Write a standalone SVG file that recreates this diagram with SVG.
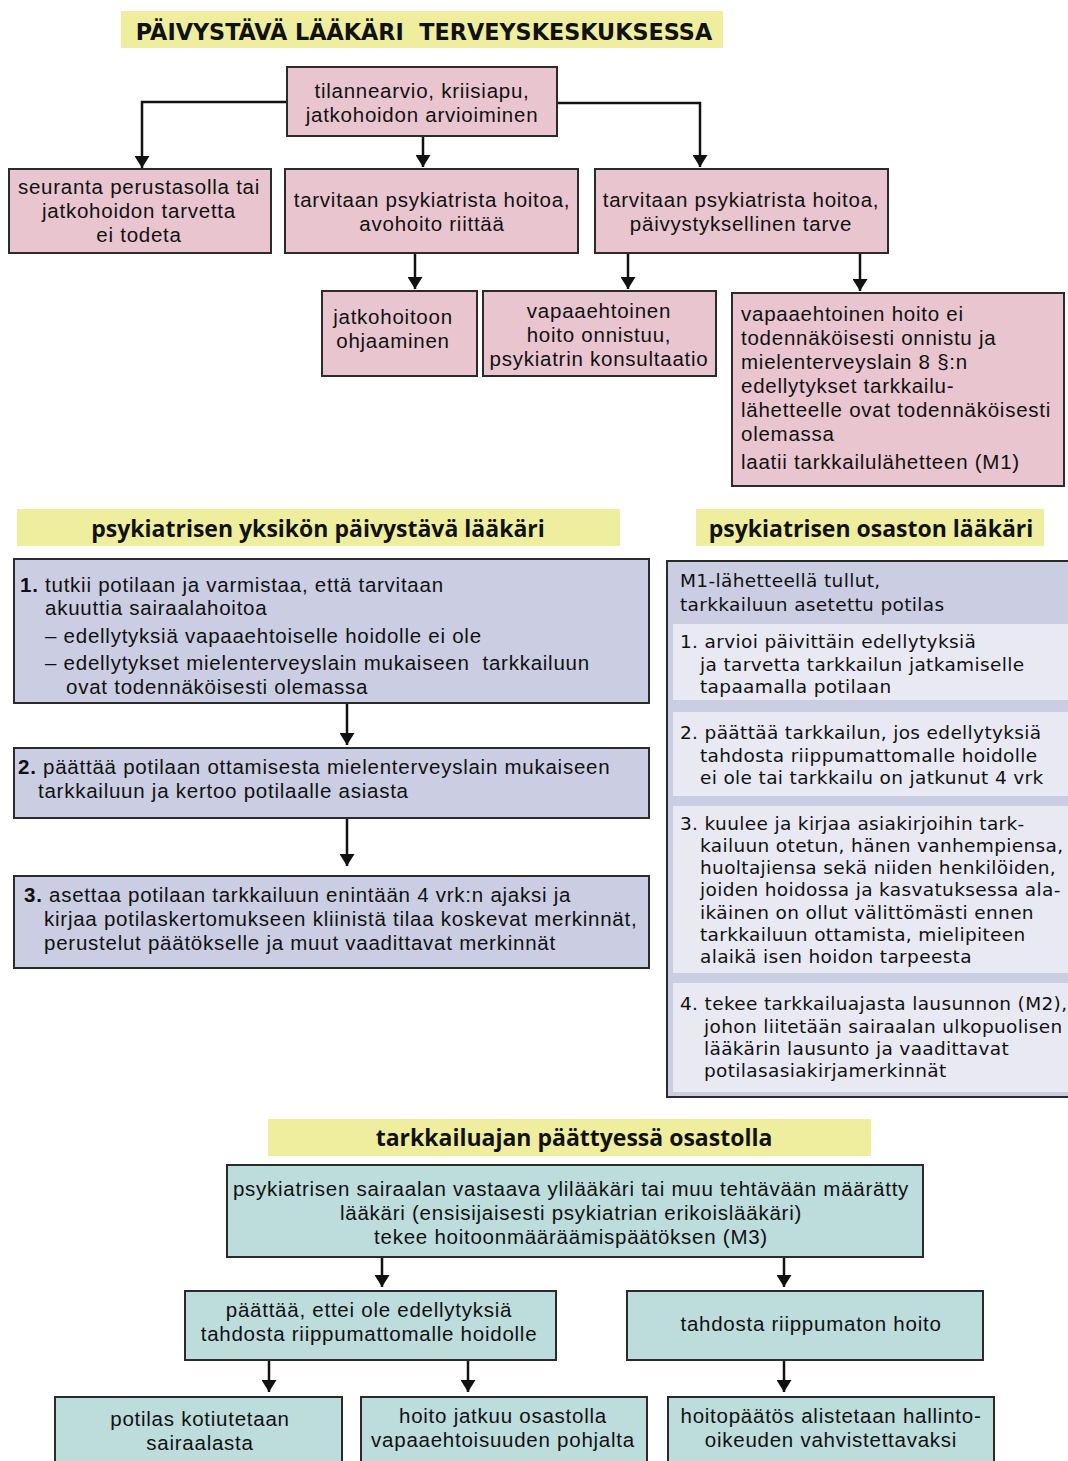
<svg xmlns="http://www.w3.org/2000/svg" width="1068" height="1461" viewBox="0 0 1068 1461">
<defs>
<marker id="ah" viewBox="0 0 12 15" refX="12" refY="7.5" markerWidth="12" markerHeight="15" markerUnits="userSpaceOnUse" orient="auto">
<path d="M0,0 L12,7.5 L0,15 Z" fill="#111"/>
</marker>
<style>
.t{font-family:"Liberation Sans",Arial,sans-serif;font-size:20.5px;letter-spacing:0.75px;fill:#111}
.o{font-family:"DejaVu Sans",Verdana,sans-serif;font-size:18.5px;letter-spacing:0.35px;fill:#111}
.h{font-family:"Open Sans","Noto Sans",sans-serif;font-size:23px;font-weight:bold;fill:#111}
.H{font-family:"DejaVu Sans",Verdana,sans-serif;font-size:22.3px;font-weight:bold;fill:#111}
.c{text-anchor:middle}
.b{font-weight:bold}
.pk{fill:#e9c5d0;stroke:#2b2b2b;stroke-width:2}
.lv{fill:#cbcde3;stroke:#2b2b2b;stroke-width:2}
.li{fill:#e8e9f3}
.tl{fill:#bddcdc;stroke:#2b2b2b;stroke-width:2}
.yl{fill:#eeee9e}
.cn{fill:none;stroke:#111;stroke-width:2.5;marker-end:url(#ah)}
</style>
</defs>
<rect width="1068" height="1461" fill="#fff"/>

<g id="title1"><rect class="yl" x="121" y="11" width="602" height="37"/><text class="H c" x="424" y="40" xml:space="preserve">PÄIVYSTÄVÄ LÄÄKÄRI  TERVEYSKESKUKSESSA</text></g>
<g id="title2"><rect class="yl" x="17" y="509" width="603" height="37"/><text class="h c" x="318" y="537">psykiatrisen yksikön päivystävä lääkäri</text></g>
<g id="title3"><rect class="yl" x="696" y="509" width="348" height="37"/><text class="h c" x="871" y="537">psykiatrisen osaston lääkäri</text></g>
<g id="title4"><rect class="yl" x="268" y="1119" width="603" height="37"/><text class="h c" x="574" y="1146">tarkkailuajan päättyessä osastolla</text></g>

<g id="connectors">
<path class="cn" d="M287,102 H142 V168"/>
<path class="cn" d="M557,103 H700 V167"/>
<path class="cn" d="M423,136 V167"/>
<path class="cn" d="M415,253 V289"/>
<path class="cn" d="M628,253 V289"/>
<path class="cn" d="M860,253 V291"/>
<path class="cn" d="M347,703 V745"/>
<path class="cn" d="M347,818 V866"/>
<path class="cn" d="M382,1257 V1287"/>
<path class="cn" d="M784,1257 V1287"/>
<path class="cn" d="M269,1360 V1392"/>
<path class="cn" d="M468,1360 V1392"/>
<path class="cn" d="M784,1360 V1392"/>
</g>

<g id="nodeA"><rect class="pk" x="287" y="67" width="270" height="69"/>
<text class="t c" x="422" y="98">tilannearvio, kriisiapu,</text>
<text class="t c" x="422" y="122">jatkohoidon arvioiminen</text></g>

<g id="nodeB1"><rect class="pk" x="9" y="169" width="262" height="84"/>
<text class="t c" x="139" y="194">seuranta perustasolla tai</text>
<text class="t c" x="139" y="218">jatkohoidon tarvetta</text>
<text class="t c" x="139" y="242">ei todeta</text></g>

<g id="nodeB2"><rect class="pk" x="285" y="169" width="293" height="84"/>
<text class="t c" x="432" y="207">tarvitaan psykiatrista hoitoa,</text>
<text class="t c" x="432" y="231">avohoito riittää</text></g>

<g id="nodeB3"><rect class="pk" x="595" y="169" width="293" height="84"/>
<text class="t c" x="741" y="207">tarvitaan psykiatrista hoitoa,</text>
<text class="t c" x="741" y="231">päivystyksellinen tarve</text></g>

<g id="nodeC1"><rect class="pk" x="322" y="291" width="155" height="85"/>
<text class="t c" x="393" y="324">jatkohoitoon</text>
<text class="t c" x="393" y="348">ohjaaminen</text></g>

<g id="nodeC2"><rect class="pk" x="483" y="291" width="233" height="85"/>
<text class="t c" x="599" y="318">vapaaehtoinen</text>
<text class="t c" x="599" y="342">hoito onnistuu,</text>
<text class="t c" x="599" y="366">psykiatrin konsultaatio</text></g>

<g id="nodeC3"><rect class="pk" x="732" y="293" width="332" height="193"/>
<text class="t" x="741" y="321">vapaaehtoinen hoito ei</text>
<text class="t" x="741" y="345">todennäköisesti onnistu ja</text>
<text class="t" x="741" y="369">mielenterveyslain 8 §:n</text>
<text class="t" x="741" y="393">edellytykset tarkkailu-</text>
<text class="t" x="741" y="417">lähetteelle ovat todennäköisesti</text>
<text class="t" x="741" y="441">olemassa</text>
<text class="t" x="741" y="469">laatii tarkkailulähetteen (M1)</text></g>

<g id="nodeD1"><rect class="lv" x="14" y="559" width="635" height="144"/>
<text class="t" x="20" y="592"><tspan class="b">1.</tspan> tutkii potilaan ja varmistaa, että tarvitaan</text>
<text class="t" x="45" y="615">akuuttia sairaalahoitoa</text>
<text class="t" x="45" y="643">– edellytyksiä vapaaehtoiselle hoidolle ei ole</text>
<text class="t" x="45" y="670" xml:space="preserve">– edellytykset mielenterveyslain mukaiseen  tarkkailuun</text>
<text class="t" x="66" y="694">ovat todennäköisesti olemassa</text></g>

<g id="nodeD2"><rect class="lv" x="14" y="748" width="635" height="70"/>
<text class="t" x="18" y="774"><tspan class="b">2.</tspan> päättää potilaan ottamisesta mielenterveyslain mukaiseen</text>
<text class="t" x="38" y="798">tarkkailuun ja kertoo potilaalle asiasta</text></g>

<g id="nodeD3"><rect class="lv" x="14" y="876" width="635" height="92"/>
<text class="t" x="24" y="902"><tspan class="b">3.</tspan> asettaa potilaan tarkkailuun enintään 4 vrk:n ajaksi ja</text>
<text class="t" x="44" y="926">kirjaa potilaskertomukseen kliinistä tilaa koskevat merkinnät,</text>
<text class="t" x="44" y="950">perustelut päätökselle ja muut vaadittavat merkinnät</text></g>

<g id="nodeR"><rect class="lv" x="667" y="561" width="404" height="536"/>
<text class="o" x="680" y="587">M1-lähetteellä tullut,</text>
<text class="o" x="680" y="611">tarkkailuun asetettu potilas</text>
<rect class="li" x="673" y="624" width="395" height="76"/>
<text class="o" x="680" y="648">1. arvioi päivittäin edellytyksiä</text>
<text class="o" x="700" y="671">ja tarvetta tarkkailun jatkamiselle</text>
<text class="o" x="700" y="693">tapaamalla potilaan</text>
<rect class="li" x="673" y="712" width="395" height="84"/>
<text class="o" x="680" y="739">2. päättää tarkkailun, jos edellytyksiä</text>
<text class="o" x="700" y="762">tahdosta riippumattomalle hoidolle</text>
<text class="o" x="700" y="784">ei ole tai tarkkailu on jatkunut 4 vrk</text>
<rect class="li" x="673" y="806" width="395" height="167"/>
<text class="o" x="680" y="830">3. kuulee ja kirjaa asiakirjoihin tark-</text>
<text class="o" x="700" y="852">kailuun otetun, hänen vanhempiensa,</text>
<text class="o" x="700" y="874">huoltajiensa sekä niiden henkilöiden,</text>
<text class="o" x="700" y="896">joiden hoidossa ja kasvatuksessa ala-</text>
<text class="o" x="700" y="919">ikäinen on ollut välittömästi ennen</text>
<text class="o" x="700" y="941">tarkkailuun ottamista, mielipiteen</text>
<text class="o" x="700" y="963">alaikä isen hoidon tarpeesta</text>
<rect class="li" x="673" y="983" width="395" height="109"/>
<text class="o" x="680" y="1010">4. tekee tarkkailuajasta lausunnon (M2),</text>
<text class="o" x="704" y="1033">johon liitetään sairaalan ulkopuolisen</text>
<text class="o" x="704" y="1055">lääkärin lausunto ja vaadittavat</text>
<text class="o" x="704" y="1077">potilasasiakirjamerkinnät</text></g>

<g id="nodeE1"><rect class="tl" x="227" y="1165" width="696" height="92"/>
<text class="t c" x="571" y="1196">psykiatrisen sairaalan vastaava ylilääkäri tai muu tehtävään määrätty</text>
<text class="t c" x="571" y="1220">lääkäri (ensisijaisesti psykiatrian erikoislääkäri)</text>
<text class="t c" x="571" y="1244">tekee hoitoonmääräämispäätöksen (M3)</text></g>

<g id="nodeF1"><rect class="tl" x="185" y="1291" width="371" height="69"/>
<text class="t c" x="369" y="1317">päättää, ettei ole edellytyksiä</text>
<text class="t c" x="369" y="1341">tahdosta riippumattomalle hoidolle</text></g>

<g id="nodeF2"><rect class="tl" x="627" y="1291" width="356" height="69"/>
<text class="t c" x="811" y="1331">tahdosta riippumaton hoito</text></g>

<g id="nodeG1"><rect class="tl" x="55" y="1397" width="287" height="70"/>
<text class="t c" x="200" y="1426">potilas kotiutetaan</text>
<text class="t c" x="200" y="1450">sairaalasta</text></g>

<g id="nodeG2"><rect class="tl" x="361" y="1397" width="286" height="70"/>
<text class="t c" x="503" y="1423">hoito jatkuu osastolla</text>
<text class="t c" x="503" y="1447">vapaaehtoisuuden pohjalta</text></g>

<g id="nodeG3"><rect class="tl" x="668" y="1397" width="326" height="70"/>
<text class="t c" x="831" y="1423">hoitopäätös alistetaan hallinto-</text>
<text class="t c" x="831" y="1447">oikeuden vahvistettavaksi</text></g>
</svg>
